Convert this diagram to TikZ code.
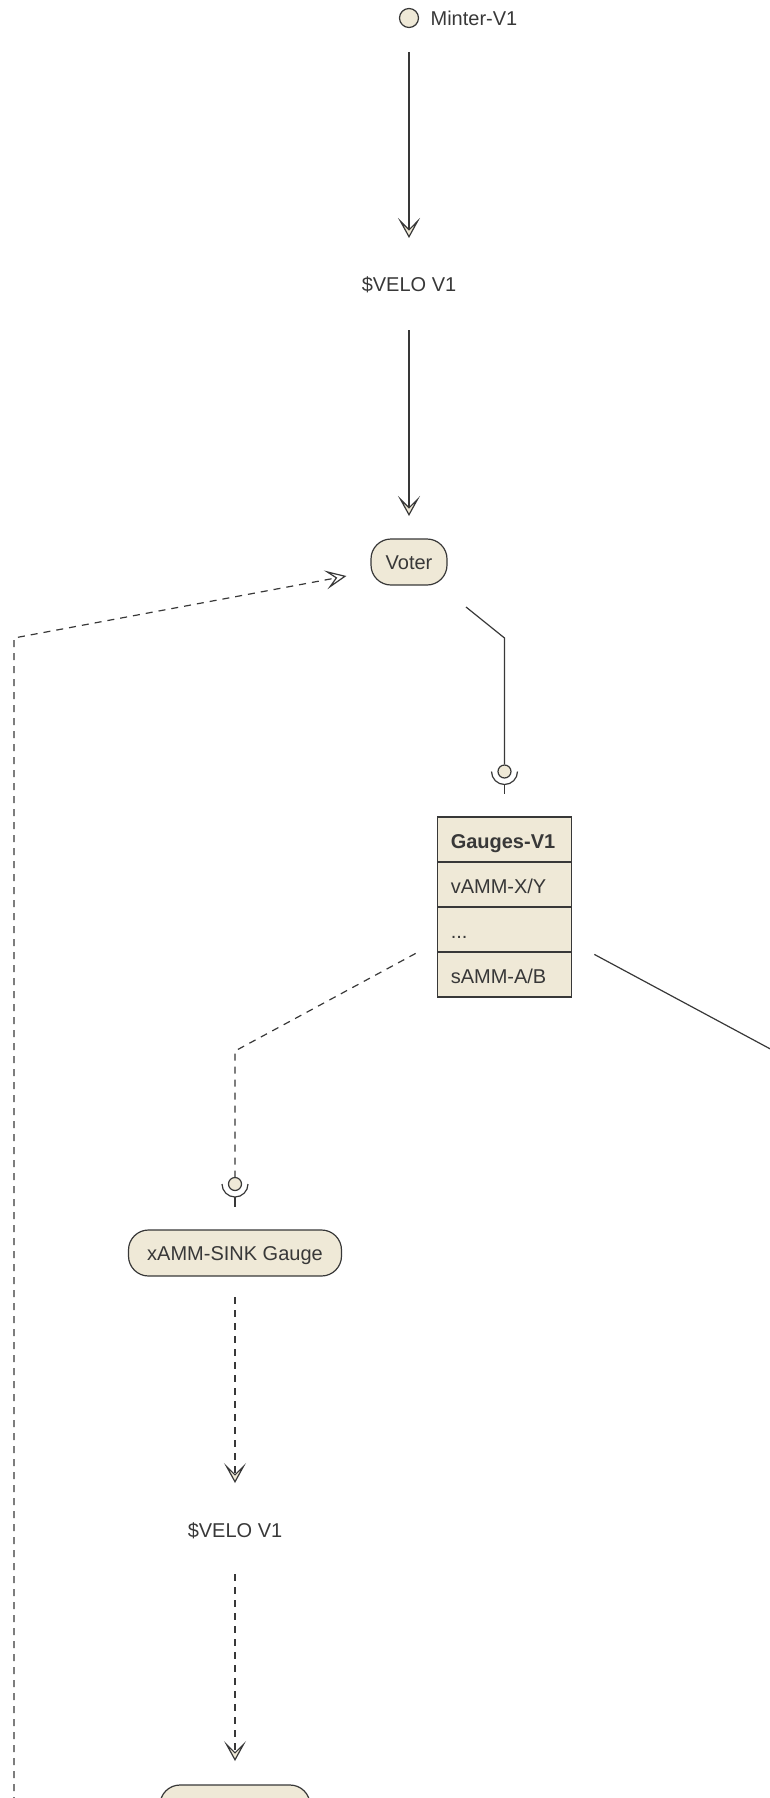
\documentclass[tikz,border=0pt]{standalone}
\usepackage{fontspec}
\setmainfont{Liberation Sans}
\usetikzlibrary{arrows.meta,calc}
\definecolor{beige}{HTML}{EFE9D7}
\definecolor{ink}{HTML}{383838}
\tikzset{
  stadium/.style={draw=ink, fill=beige, rounded corners=20pt, minimum height=46pt, inner sep=0pt, text=ink, text height=14.3pt, text depth=0pt},
  lbl/.style={inner sep=0pt, text=ink},
  cell/.style={draw=ink, fill=beige, minimum width=134.5pt, minimum height=45pt, text width=107.5pt, inner sep=0pt, align=left, text=ink, text height=17pt, text depth=0pt},
  sock/.style={circle, draw=ink, fill=beige, minimum size=13pt, inner sep=0pt},
  arr/.style={-{Stealth[length=20pt,width=22pt,inset=11pt,fill=beige]}},
  openarr/.style={-{Stealth[length=21pt,width=19pt,inset=10pt,fill=white]}},
  dsh/.style={dash pattern=on 7pt off 6pt},
}
\begin{document}
\begin{tikzpicture}[x=1pt, y=-1pt, line width=1.2pt, draw=ink, font=\fontsize{20}{24}\selectfont]
\useasboundingbox (0,0) rectangle (770,1798);
\clip (0,0) rectangle (770,1798);
% nodes
\node[circle, draw=ink, fill=beige, minimum size=19pt, inner sep=0pt] (minter) at (409,18) {};
\node[lbl, anchor=west] (minterlbl) at (430,18) {Minter-V1};
\node[lbl] (velo1) at (409,285) {\$VELO V1};
\node[stadium, minimum width=76pt] (voter) at (409,562) {Voter};
\node[cell, font=\fontsize{20}{24}\selectfont\bfseries] (g1) at (504.5,839.5) {Gauges-V1};
\node[cell] (g2) at (504.5,884.5) {vAMM-X/Y};
\node[cell] (g3) at (504.5,929.5) {...};
\node[cell] (g4) at (504.5,974.5) {sAMM-A/B};
\node[sock] (sock1) at (504.5,771.5) {};
\node[sock] (sock2) at (235,1184) {};
\node[stadium, minimum width=213pt] (xamm) at (235,1253) {xAMM-SINK Gauge};
\node[lbl] (velo2) at (235,1531) {\$VELO V1};
\node[stadium, minimum width=150pt] (sink) at (235,1808) {};
% coordinates
\coordinate (bend1) at ($(sock1.center)+(0,-133.5)$);
\coordinate (bend2) at ($(sock2.center)+(0,-133)$);
\coordinate (fb0) at (14,1830);
\coordinate (fb1) at (14,638);
\coordinate (offr) at (822.5,1077);
% connectors
\draw[arr] ($(minter.center)+(0,34)$) -- ($(velo1.center)+(0,-47)$);
\draw[arr] ($(velo1.center)+(0,45)$) -- ($(voter.center)+(0,-46)$);
\draw ($(voter.center)+(57,45)$) -- (bend1) -- (sock1.north);
\draw ([shift={(180:13pt)}]sock1.center) arc[start angle=180, end angle=360, radius=13pt];
\draw ($(sock1.center)+(0,13)$) -- ($(sock1.center)+(0,22.5)$);
\draw[dsh] ($(g4.north west)+(-21,2)$) -- (bend2) -- (sock2.north);
\draw ([shift={(180:13pt)}]sock2.center) arc[start angle=180, end angle=360, radius=13pt];
\draw ($(sock2.center)+(0,13)$) -- ($(sock2.center)+(0,23)$);
\draw ($(g4.north east)+(22,3)$) -- (offr);
\draw[arr, dsh] ($(xamm.center)+(0,44)$) -- ($(velo2.center)+(0,-48)$);
\draw[arr, dsh] ($(velo2.center)+(0,43)$) -- ($(sink.center)+(0,-47)$);
\draw[openarr, dsh] (fb0) -- (fb1) -- ($(voter.west)+(-24,14)$);
\end{tikzpicture}
\end{document}
